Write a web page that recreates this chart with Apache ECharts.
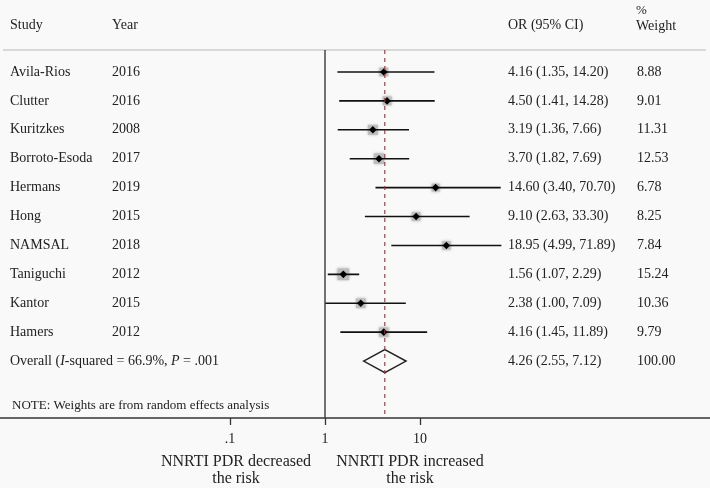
<!DOCTYPE html>
<html><head><meta charset="utf-8">
<script src="https://cdn.jsdelivr.net/npm/echarts@6/dist/echarts.min.js"></script>
<style>html,body{margin:0;padding:0;background:#f9f9f9}#c{width:710px;height:488px}</style>
</head><body><div id="c"></div>
<script>
const studies = ['Avila-Rios','Clutter','Kuritzkes','Borroto-Esoda','Hermans','Hong','NAMSAL','Taniguchi','Kantor','Hamers'];
const years = ['2016','2016','2008','2017','2019','2015','2018','2012','2015','2012'];
const orVals = [4.16,4.50,3.19,3.70,14.60,9.10,18.95,1.56,2.38,4.16];
const ciLow = [1.35,1.41,1.36,1.82,3.40,2.63,4.99,1.07,1.00,1.45];
const ciHigh = [14.20,14.28,7.66,7.69,70.70,33.30,71.89,2.29,7.09,11.89];
const weights = [8.88,9.01,11.31,12.53,6.78,8.25,7.84,15.24,10.36,9.79];
const overall = {or:4.26, lo:2.55, hi:7.12, w:100.00, i2:'66.9%', p:'.001'};
const tickValues = [0.1,1,10];
const tickLabels = ['.1','1','10'];

const FONT = '"Liberation Serif", "DejaVu Serif", serif';
const oneX = 325, perDecade = 95, W = 710;
const xmin = Math.pow(10, -oneX/perDecade), xmax = Math.pow(10, (W-oneX)/perDecade);
const nRow = studies.length;
const yMin = -0.761, yMax = 11.97;

const rows = studies.map((s,i)=>[i, orVals[i], ciLow[i], ciHigh[i], weights[i]]);
const textRows = studies.map((s,i)=>({row:i, study:s, year:years[i],
  ortxt: orVals[i].toFixed(2)+' ('+ciLow[i].toFixed(2)+', '+ciHigh[i].toFixed(2)+')',
  wtxt: weights[i].toFixed(2)}));
textRows.push({row:nRow, study:'Overall ({i|I}-squared = '+overall.i2+', {i|P} = '+overall.p, year:'',
  ortxt: overall.or.toFixed(2)+' ('+overall.lo.toFixed(2)+', '+overall.hi.toFixed(2)+')',
  wtxt: overall.w.toFixed(2)});

const txtStyle = (t,x,y)=>({type:'text', x:x, y:y, style:{text:t, fill:'#222', font:'14px '+FONT,
  textVerticalAlign:'middle', rich:{i:{fontStyle:'italic', fontSize:14, fontFamily:FONT, fill:'#222'}}}});

const chart = echarts.init(document.getElementById('c'));
chart.setOption({
  backgroundColor:'#f9f9f9',
  animation:false,
  grid:{left:0, right:0, top:50, bottom:70},
  xAxis:{type:'log', logBase:10, min:xmin, max:xmax, position:'bottom',
    axisLine:{show:true, onZero:false, lineStyle:{color:'#333', width:1.5}},
    axisTick:{show:false},
    axisLabel:{show:true, customValues:tickValues, margin:14, color:'#222', fontSize:14, fontFamily:FONT,
      formatter:v=>{const k=tickValues.findIndex(t=>Math.abs(t-v)<1e-9); return k>=0?tickLabels[k]:'';}},
    splitLine:{show:false}},
  yAxis:{type:'value', inverse:true, min:yMin, max:yMax, show:false},
  graphic:[
    {type:'line', shape:{x1:3,y1:50,x2:706,y2:50}, style:{stroke:'#d8d8d8', lineWidth:2}},
    {type:'text', x:10, y:25, style:{text:'Study', font:'14px '+FONT, fill:'#222', textVerticalAlign:'middle'}},
    {type:'text', x:112, y:25, style:{text:'Year', font:'14px '+FONT, fill:'#222', textVerticalAlign:'middle'}},
    {type:'text', x:508, y:25, style:{text:'OR (95% CI)', font:'14px '+FONT, fill:'#222', textVerticalAlign:'middle'}},
    {type:'text', x:636, y:11, style:{text:'%', font:'13px '+FONT, fill:'#222', textVerticalAlign:'middle'}},
    {type:'text', x:636, y:26, style:{text:'Weight', font:'14px '+FONT, fill:'#222', textVerticalAlign:'middle'}},
    {type:'text', x:12, y:406, style:{text:'NOTE: Weights are from random effects analysis', font:'13px '+FONT, fill:'#222', textVerticalAlign:'middle'}},
    {type:'text', x:236, y:470, style:{text:'NNRTI PDR decreased\nthe risk', font:'16px '+FONT, fill:'#222', textAlign:'center', textVerticalAlign:'middle', lineHeight:17}},
    {type:'text', x:410, y:470, style:{text:'NNRTI PDR increased\nthe risk', font:'16px '+FONT, fill:'#222', textAlign:'center', textVerticalAlign:'middle', lineHeight:17}}
  ],
  series:[
    {type:'custom', name:'refline', data:[[1, overall.or]], encode:{x:[0,1]}, z:5, silent:true, clip:false,
      renderItem:(params, api)=>{
        const one=api.value(0), o=api.value(1);
        const a1=api.coord([one,yMin]), b1=api.coord([one,yMax]);
        const a2=api.coord([o,yMin]), b2=api.coord([o,yMax]);
        const ticks = tickValues.map(v=>{const p=api.coord([v,yMax]);
          return {type:'line', shape:{x1:p[0]+0.5,y1:p[1],x2:p[0]+0.5,y2:p[1]+7}, style:{stroke:'#333', lineWidth:1.3}};});
        return {type:'group', children:[
          {type:'line', shape:{x1:a1[0],y1:a1[1],x2:b1[0],y2:b1[1]}, style:{stroke:'#444', lineWidth:1.5}},
          {type:'line', shape:{x1:a2[0],y1:a2[1],x2:b2[0],y2:b2[1]}, style:{stroke:'#b3262a', lineWidth:1.1, lineDash:[4,4]}}
        ].concat(ticks)};
      }
    },
    {type:'custom', name:'studies', data:rows, encode:{x:[1,2,3], y:0}, clip:false, z:3,
      renderItem:(params, api)=>{
        const r=api.value(0), o=api.value(1), lo=api.value(2), hi=api.value(3), w=api.value(4);
        const pO=api.coord([o,r]), pL=api.coord([lo,r]), pH=api.coord([hi,r]);
        const s=3.0*Math.sqrt(w), d=3.8;
        return {type:'group', children:[
          {type:'rect', shape:{x:pO[0]-s/2, y:pO[1]-s/2, width:s, height:s}, style:{fill:'#bcbcbc', shadowBlur:3, shadowColor:'rgba(150,150,150,0.8)'}},
          {type:'line', shape:{x1:pL[0], y1:pL[1], x2:pH[0], y2:pH[1]}, style:{stroke:'#111', lineWidth:1.6}},
          {type:'polygon', shape:{points:[[pO[0]-d,pO[1]],[pO[0],pO[1]-d],[pO[0]+d,pO[1]],[pO[0],pO[1]+d]]}, style:{fill:'#000'}}
        ]};
      }
    },
    {type:'custom', name:'overall', data:[[nRow, overall.or, overall.lo, overall.hi]], encode:{x:[1,2,3], y:0}, z:2,
      renderItem:(params, api)=>{
        const r=api.value(0), o=api.value(1), lo=api.value(2), hi=api.value(3);
        const pO=api.coord([o,r]), pL=api.coord([lo,r]), pH=api.coord([hi,r]);
        const h=11.5;
        return {type:'polygon', shape:{points:[[pL[0],pL[1]],[pO[0],pO[1]-h],[pH[0],pH[1]],[pO[0],pO[1]+h]]},
          style:{fill:'none', stroke:'#222', lineWidth:1.5}};
      }
    },
    {type:'custom', name:'table', data:textRows.map(t=>[t.row]), encode:{y:0}, clip:false, silent:true,
      renderItem:(params, api)=>{
        const t=textRows[params.dataIndex];
        const y=api.coord([1,t.row])[1];
        return {type:'group', children:[
          txtStyle(t.study,10,y), txtStyle(t.year,112,y), txtStyle(t.ortxt,508,y), txtStyle(t.wtxt,637,y)
        ]};
      }
    }
  ]
});
</script></body></html>
